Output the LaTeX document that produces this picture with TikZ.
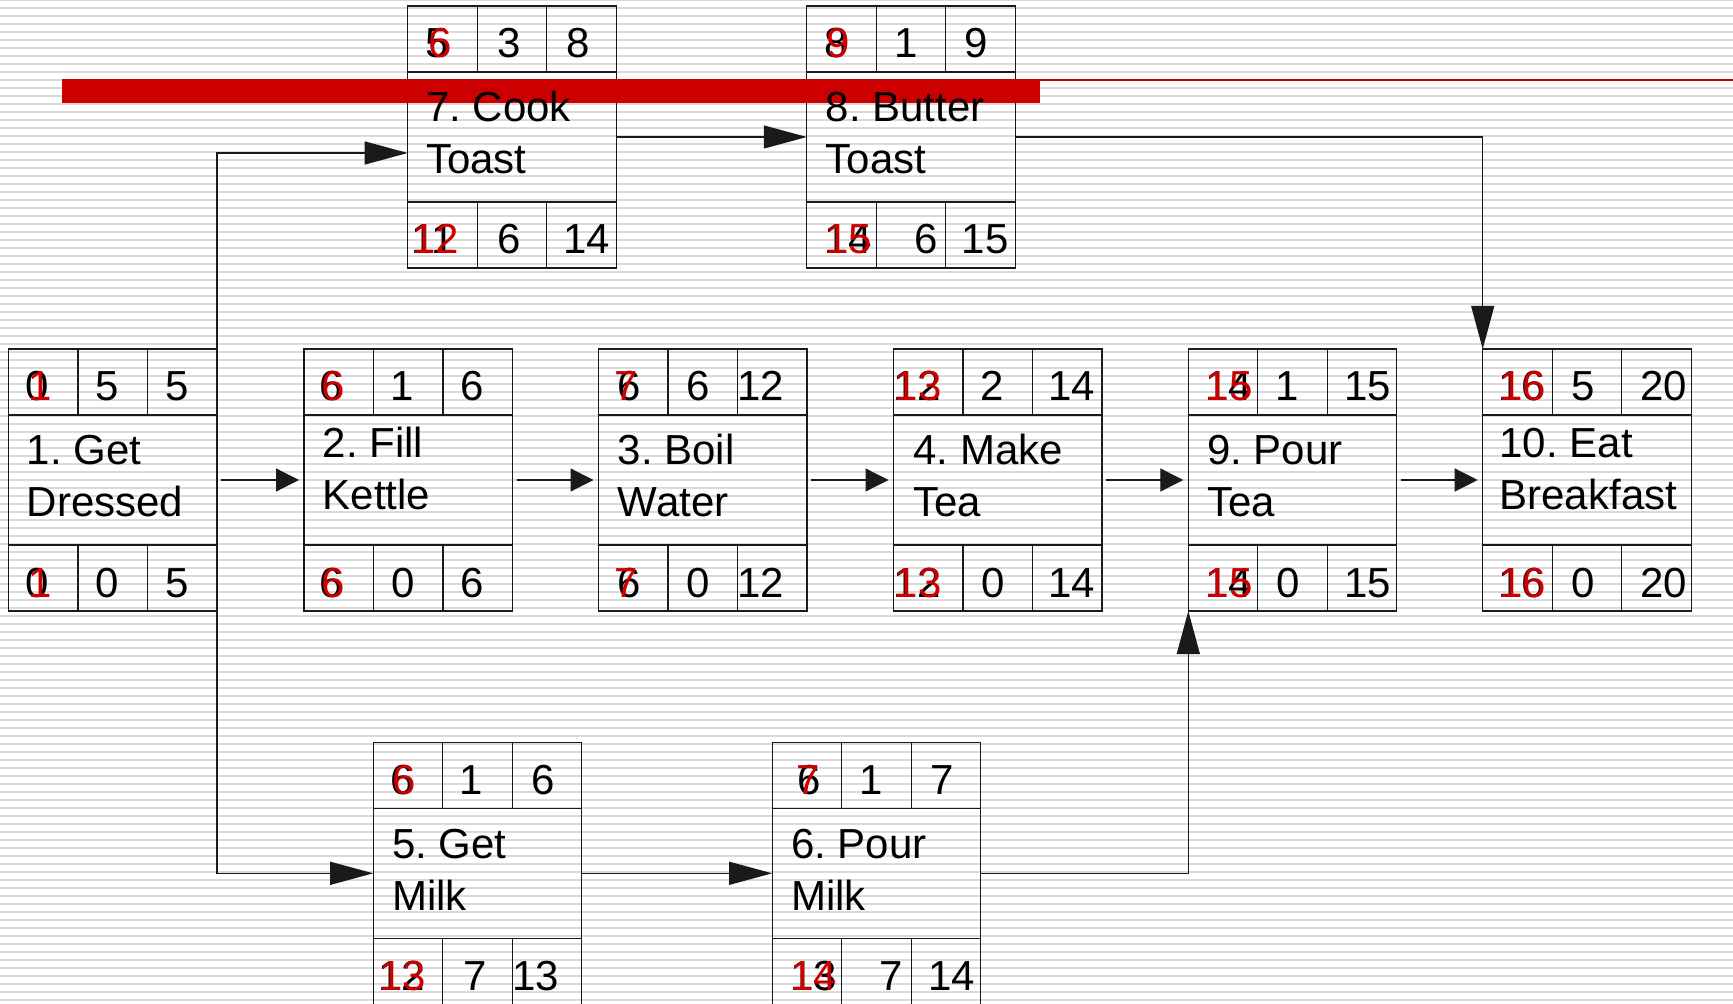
\documentclass[tikz,border=0pt]{standalone}
\usepackage{fontspec}
\setmainfont{Liberation Sans}
\usetikzlibrary{arrows.meta}
\definecolor{cpmline}{HTML}{1A1A1A}
\definecolor{cpmred}{HTML}{CC0000}
\definecolor{cpmstripe}{HTML}{DADADA}
\pgfdeclarelayer{back}
\pgfdeclarelayer{grid}
\pgfdeclarelayer{mark}
\pgfsetlayers{back,grid,mark,main}
\tikzset{
  cpm frame/.style={draw=cpmline, line width=0.6pt, minimum width=104.25pt,
    minimum height=131pt, inner sep=0pt, outer sep=0pt, anchor=north west},
  cpm rule/.style={draw=cpmline, line width=0.6pt},
  cpm stripe/.style={draw=cpmstripe, line width=1pt},
  cpm num/.style={font=\fontsize{21pt}{25.85pt}\selectfont\frenchspacing,
    text=black, inner sep=0pt, anchor=base west, xshift=1.25pt},
  cpm revised/.style={cpm num, text=cpmred},
  % base of a two-line label sits on its second line
  cpm task/.style={cpm num, align=left},
  cpm link/.style={draw=cpmline, line width=0.6pt,
    -{Triangle[length=21.5pt, width=11.5pt]}},
  cpm next/.style={draw=cpmline, line width=0.6pt,
    -{Triangle[length=11.5pt, width=11.5pt]},
    shorten <=2pt, shorten >=2.5pt},
}

\begin{document}
\begin{tikzpicture}[x=0.5pt, y=-0.5pt]
  \useasboundingbox (0,0) rectangle (1733,1004);

  % Ruled paper behind everything.
  \begin{pgfonlayer}{back}
    \fill[white] (0,0) rectangle (1733,1004);
    \foreach \k in {0,...,125}
      \draw[cpm stripe] (0,8*\k) -- (1733,8*\k);
  \end{pgfonlayer}

  % Red strike-out across the top row.
  \begin{pgfonlayer}{mark}
    \fill[cpmred] (62,79) rectangle (1040,103);
    \draw[cpmred, line width=1pt] (1040,80) -- (1733,80);
  \end{pgfonlayer}

  % 1. Get Dressed.
  \begin{scope}[shift={(8.5,349)}]
    \begin{pgfonlayer}{grid}
      \node[cpm frame] (dress) at (0,0) {};
      \draw[cpm rule] (0,66) -- (208.5,66) (0,196) -- (208.5,196)
        (69.5,0) -- (69.5,66) (139,0) -- (139,66)
        (69.5,196) -- (69.5,262) (139,196) -- (139,262);
    \end{pgfonlayer}
    \node[cpm num] (dress-es) at (14,52) {0};
    \node[cpm revised] (dress-es-r) at (17.5,52) {1};
    \node[cpm num] (dress-du) at (84.5,52) {5};
    \node[cpm num] (dress-ef) at (154,52) {5};
    \node[cpm task] (dress-name) at (15.5,167.7) {1. Get\\Dressed};
    \node[cpm num] (dress-ls) at (14,248) {0};
    \node[cpm revised] (dress-ls-r) at (17.5,248) {1};
    \node[cpm num] (dress-fl) at (84.5,248) {0};
    \node[cpm num] (dress-lf) at (154,248) {5};
  \end{scope}

  % 2. Fill Kettle.
  \begin{scope}[shift={(304,349)}]
    \begin{pgfonlayer}{grid}
      \node[cpm frame] (fill) at (0,0) {};
      \draw[cpm rule] (0,66) -- (208.5,66) (0,196) -- (208.5,196)
        (69.5,0) -- (69.5,66) (139,0) -- (139,66)
        (69.5,196) -- (69.5,262) (139,196) -- (139,262);
    \end{pgfonlayer}
    \node[cpm num] (fill-es) at (13,52) {6};
    \node[cpm revised] (fill-es-r) at (15,52) {6};
    \node[cpm num] (fill-du) at (83.5,52) {1};
    \node[cpm num] (fill-ef) at (154,52) {6};
    \node[cpm task] (fill-name) at (16,160.7) {2. Fill\\Kettle};
    \node[cpm num] (fill-ls) at (13,248) {6};
    \node[cpm revised] (fill-ls-r) at (15,248) {6};
    \node[cpm num] (fill-fl) at (84.5,248) {0};
    \node[cpm num] (fill-lf) at (154,248) {6};
  \end{scope}

  % 3. Boil Water.
  \begin{scope}[shift={(598.5,349)}]
    \begin{pgfonlayer}{grid}
      \node[cpm frame] (boil) at (0,0) {};
      \draw[cpm rule] (0,66) -- (208.5,66) (0,196) -- (208.5,196)
        (69.5,0) -- (69.5,66) (139,0) -- (139,66)
        (69.5,196) -- (69.5,262) (139,196) -- (139,262);
    \end{pgfonlayer}
    \node[cpm num] (boil-es) at (16,52) {6};
    \node[cpm revised] (boil-es-r) at (13,52) {7};
    \node[cpm num] (boil-du) at (85.5,52) {6};
    \node[cpm num] (boil-ef) at (136,52) {12};
    \node[cpm task] (boil-name) at (16.5,167.7) {3. Boil\\Water};
    \node[cpm num] (boil-ls) at (16,248) {6};
    \node[cpm revised] (boil-ls-r) at (13,248) {7};
    \node[cpm num] (boil-fl) at (85.5,248) {0};
    \node[cpm num] (boil-lf) at (136,248) {12};
  \end{scope}

  % 4. Make Tea.
  \begin{scope}[shift={(893.5,349)}]
    \begin{pgfonlayer}{grid}
      \node[cpm frame] (make) at (0,0) {};
      \draw[cpm rule] (0,66) -- (208.5,66) (0,196) -- (208.5,196)
        (69.5,0) -- (69.5,66) (139,0) -- (139,66)
        (69.5,196) -- (69.5,262) (139,196) -- (139,262);
    \end{pgfonlayer}
    \node[cpm num] (make-es) at (-2.5,52) {12};
    \node[cpm revised] (make-es-r) at (-1.5,52) {13};
    \node[cpm num] (make-du) at (84.5,52) {2};
    \node[cpm num] (make-ef) at (152,52) {14};
    \node[cpm task] (make-name) at (17,167.7) {4. Make\\Tea};
    \node[cpm num] (make-ls) at (-2.5,248) {12};
    \node[cpm revised] (make-ls-r) at (-1.5,248) {13};
    \node[cpm num] (make-fl) at (85.5,248) {0};
    \node[cpm num] (make-lf) at (152,248) {14};
  \end{scope}

  % 9. Pour Tea.
  \begin{scope}[shift={(1188.3,349)}]
    \begin{pgfonlayer}{grid}
      \node[cpm frame] (pourtea) at (0,0) {};
      \draw[cpm rule] (0,66) -- (208.5,66) (0,196) -- (208.5,196)
        (69.5,0) -- (69.5,66) (139,0) -- (139,66)
        (69.5,196) -- (69.5,262) (139,196) -- (139,262);
    \end{pgfonlayer}
    \node[cpm num] (pourtea-es) at (14,52) {14};
    \node[cpm revised] (pourtea-es-r) at (14.5,52) {15};
    \node[cpm num] (pourtea-du) at (84.5,52) {1};
    \node[cpm num] (pourtea-ef) at (153,52) {15};
    \node[cpm task] (pourtea-name) at (16,167.7) {9. Pour\\Tea};
    \node[cpm num] (pourtea-ls) at (14,248) {14};
    \node[cpm revised] (pourtea-ls-r) at (14.5,248) {15};
    \node[cpm num] (pourtea-fl) at (85.5,248) {0};
    \node[cpm num] (pourtea-lf) at (153,248) {15};
  \end{scope}

  % 10. Eat Breakfast.
  \begin{scope}[shift={(1482.7,349)}]
    \begin{pgfonlayer}{grid}
      \node[cpm frame] (eat) at (0,0) {};
      \draw[cpm rule] (0,66) -- (208.5,66) (0,196) -- (208.5,196)
        (69.5,0) -- (69.5,66) (139,0) -- (139,66)
        (69.5,196) -- (69.5,262) (139,196) -- (139,262);
    \end{pgfonlayer}
    \node[cpm num] (eat-es) at (13,52) {16};
    \node[cpm revised] (eat-es-r) at (14,52) {16};
    \node[cpm num] (eat-du) at (85.5,52) {5};
    \node[cpm num] (eat-ef) at (155,52) {20};
    \node[cpm task] (eat-name) at (14,160.7) {10. Eat\\Breakfast};
    \node[cpm num] (eat-ls) at (13,248) {16};
    \node[cpm revised] (eat-ls-r) at (14,248) {16};
    \node[cpm num] (eat-fl) at (85.5,248) {0};
    \node[cpm num] (eat-lf) at (155,248) {20};
  \end{scope}

  % 7. Cook Toast.
  \begin{scope}[shift={(407.7,6)}]
    \begin{pgfonlayer}{grid}
      \node[cpm frame] (cook) at (0,0) {};
      \draw[cpm rule] (0,66) -- (208.5,66) (0,196) -- (208.5,196)
        (69.5,0) -- (69.5,66) (139,0) -- (139,66)
        (69.5,196) -- (69.5,262) (139,196) -- (139,262);
    \end{pgfonlayer}
    \node[cpm num] (cook-es) at (15,52) {5};
    \node[cpm revised] (cook-es-r) at (18,52) {6};
    \node[cpm num] (cook-du) at (86.5,52) {3};
    \node[cpm num] (cook-ef) at (156,52) {8};
    \node[cpm task] (cook-name) at (15.5,167.7) {7. Cook\\Toast};
    \node[cpm num] (cook-ls) at (1,248) {11};
    \node[cpm revised] (cook-ls-r) at (1.5,248) {12};
    \node[cpm num] (cook-fl) at (86.5,248) {6};
    \node[cpm num] (cook-lf) at (153,248) {14};
  \end{scope}

  % 8. Butter Toast.
  \begin{scope}[shift={(806.8,6)}]
    \begin{pgfonlayer}{grid}
      \node[cpm frame] (butter) at (0,0) {};
      \draw[cpm rule] (0,66) -- (208.5,66) (0,196) -- (208.5,196)
        (69.5,0) -- (69.5,66) (139,0) -- (139,66)
        (69.5,196) -- (69.5,262) (139,196) -- (139,262);
    \end{pgfonlayer}
    \node[cpm num] (butter-es) at (15,52) {8};
    \node[cpm revised] (butter-es-r) at (17,52) {9};
    \node[cpm num] (butter-du) at (84.5,52) {1};
    \node[cpm num] (butter-ef) at (155,52) {9};
    \node[cpm task] (butter-name) at (16,167.7) {8. Butter\\Toast};
    \node[cpm num] (butter-ls) at (15,248) {14};
    \node[cpm revised] (butter-ls-r) at (15.5,248) {15};
    \node[cpm num] (butter-fl) at (104.5,248) {6};
    \node[cpm num] (butter-lf) at (152,248) {15};
  \end{scope}

  % 5. Get Milk.
  \begin{scope}[shift={(373.2,742.3)}]
    \begin{pgfonlayer}{grid}
      \node[cpm frame] (milk) at (0,0) {};
      \draw[cpm rule] (0,66) -- (208.5,66) (0,196) -- (208.5,196)
        (69.5,0) -- (69.5,66) (139,0) -- (139,66)
        (69.5,196) -- (69.5,262) (139,196) -- (139,262);
    \end{pgfonlayer}
    \node[cpm num] (milk-es) at (14.5,52) {6};
    \node[cpm revised] (milk-es-r) at (16.5,52) {6};
    \node[cpm num] (milk-du) at (83.5,52) {1};
    \node[cpm num] (milk-ef) at (155,52) {6};
    \node[cpm task] (milk-name) at (16,167.7) {5. Get\\Milk};
    \node[cpm num] (milk-ls) at (2.5,248) {12};
    \node[cpm revised] (milk-ls-r) at (3.5,248) {13};
    \node[cpm num] (milk-fl) at (87,248) {7};
    \node[cpm num] (milk-lf) at (136.5,248) {13};
  \end{scope}

  % 6. Pour Milk.
  \begin{scope}[shift={(772.2,742.3)}]
    \begin{pgfonlayer}{grid}
      \node[cpm frame] (pourmilk) at (0,0) {};
      \draw[cpm rule] (0,66) -- (208.5,66) (0,196) -- (208.5,196)
        (69.5,0) -- (69.5,66) (139,0) -- (139,66)
        (69.5,196) -- (69.5,262) (139,196) -- (139,262);
    \end{pgfonlayer}
    \node[cpm num] (pourmilk-es) at (22,52) {6};
    \node[cpm revised] (pourmilk-es-r) at (21,52) {7};
    \node[cpm num] (pourmilk-du) at (84.5,52) {1};
    \node[cpm num] (pourmilk-ef) at (155,52) {7};
    \node[cpm task] (pourmilk-name) at (16,167.7) {6. Pour\\Milk};
    \node[cpm num] (pourmilk-ls) at (15,248) {13};
    \node[cpm revised] (pourmilk-ls-r) at (15.5,248) {14};
    \node[cpm num] (pourmilk-fl) at (104.5,248) {7};
    \node[cpm num] (pourmilk-lf) at (153,248) {14};
  \end{scope}

  % Precedence links along the critical row.
  \draw[cpm next] (dress) -- (fill);
  \draw[cpm next] (fill) -- (boil);
  \draw[cpm next] (boil) -- (make);
  \draw[cpm next] (make) -- (pourtea);
  \draw[cpm next] (pourtea) -- (eat);

  % Toast branch above, milk branch below.
  \draw[cpm link] (dress.north east) |- ([yshift=-8pt]cook.west);
  \draw[cpm link] (cook) -- (butter);
  \draw[cpm link] (butter) -| (eat.north west);
  \draw[cpm link] (dress.south east) |- (milk);
  \draw[cpm link] (milk) -- (pourmilk);
  \draw[cpm link] (pourmilk) -| (pourtea.south west);
\end{tikzpicture}
\end{document}
